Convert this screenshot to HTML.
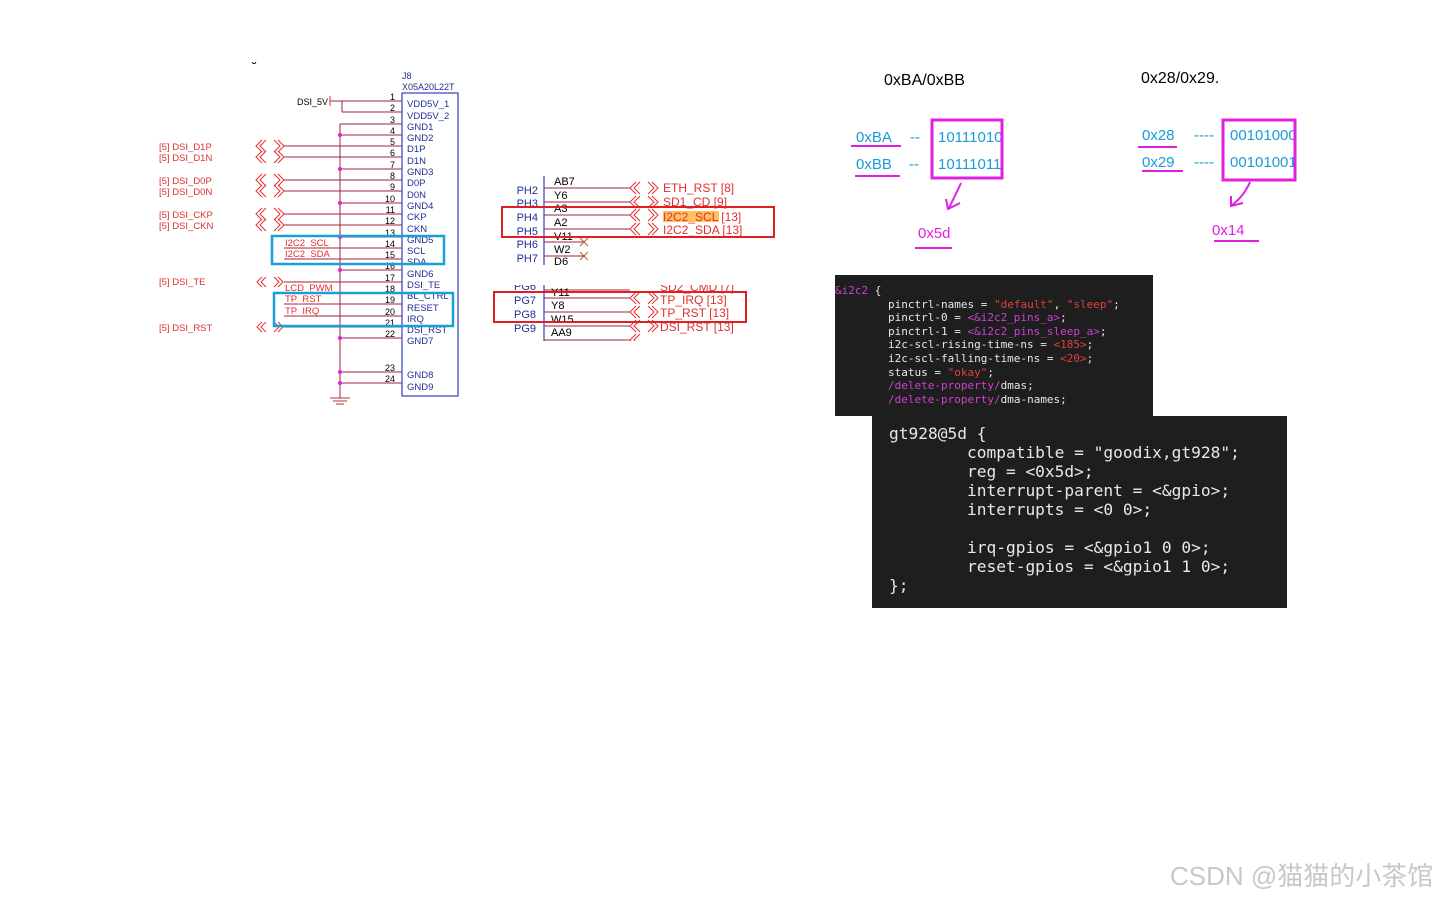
<!DOCTYPE html>
<html><head><meta charset="utf-8"><style>
body{margin:0;background:#fff;width:1440px;height:900px;overflow:hidden;position:relative;font-family:"Liberation Sans",sans-serif}
.code{position:absolute;background:#1e1e1e;font-family:"DejaVu Sans Mono","Liberation Mono",monospace;white-space:pre;color:#e8e8e8}
.m{color:#d040d0}.r{color:#e04040}
</style></head><body>
<svg width="1440" height="900" style="position:absolute;left:0;top:0" font-family="Liberation Sans, sans-serif">
<g font-size="9.5" fill="#e03030">
<text x="252" y="72" fill="#000" font-size="14">˘</text>
</g>
<rect x="402" y="93" width="56" height="303" fill="none" stroke="#3040c0" stroke-width="1.2"/>
<text x="402" y="79" font-size="9" fill="#203090">J8</text>
<text x="402" y="90" font-size="9" fill="#203090">X05A20L22T</text>
<line x1="340" y1="124" x2="340" y2="398" stroke="#a02040" stroke-width="1"/>
<line x1="330" y1="398" x2="350" y2="398" stroke="#c03030"/><line x1="333" y1="401" x2="347" y2="401" stroke="#c03030"/><line x1="336" y1="404" x2="344" y2="404" stroke="#c03030"/>
<g stroke="#a02040" stroke-width="1">
<line x1="330" y1="101" x2="402" y2="101"/><line x1="330" y1="96" x2="330" y2="106" stroke="#e03030"/>
<line x1="342" y1="101" x2="342" y2="112"/><line x1="342" y1="112" x2="402" y2="112"/>
<line x1="340" y1="124" x2="402" y2="124"/><line x1="340" y1="135" x2="402" y2="135"/>
<line x1="284" y1="146" x2="402" y2="146"/><line x1="284" y1="157" x2="402" y2="157"/>
<line x1="340" y1="169" x2="402" y2="169"/>
<line x1="284" y1="180" x2="402" y2="180"/><line x1="284" y1="191" x2="402" y2="191"/>
<line x1="340" y1="203" x2="402" y2="203"/>
<line x1="284" y1="214" x2="402" y2="214"/><line x1="284" y1="225" x2="402" y2="225"/>
<line x1="340" y1="237" x2="402" y2="237"/>
<line x1="284" y1="248" x2="402" y2="248"/><line x1="284" y1="259" x2="402" y2="259"/>
<line x1="340" y1="270" x2="402" y2="270"/>
<line x1="284" y1="282" x2="402" y2="282"/><line x1="284" y1="293" x2="402" y2="293"/>
<line x1="284" y1="304" x2="402" y2="304"/><line x1="284" y1="316" x2="402" y2="316"/>
<line x1="284" y1="327" x2="402" y2="327"/>
<line x1="340" y1="338" x2="402" y2="338"/><line x1="340" y1="372" x2="402" y2="372"/><line x1="340" y1="383" x2="402" y2="383"/>
</g>
<g fill="#e020e0">
<circle cx="340" cy="135" r="2"/><circle cx="340" cy="169" r="2"/><circle cx="340" cy="203" r="2"/><circle cx="340" cy="237" r="2"/><circle cx="340" cy="270" r="2"/><circle cx="340" cy="338" r="2"/><circle cx="340" cy="372" r="2"/><circle cx="340" cy="383" r="2"/>
</g>
<g font-size="9" fill="#000" text-anchor="end">
<text x="395" y="100">1</text><text x="395" y="111">2</text><text x="395" y="123">3</text><text x="395" y="134">4</text><text x="395" y="145">5</text><text x="395" y="156">6</text><text x="395" y="168">7</text><text x="395" y="179">8</text><text x="395" y="190">9</text><text x="395" y="202">10</text><text x="395" y="213">11</text><text x="395" y="224">12</text><text x="395" y="236">13</text><text x="395" y="247">14</text><text x="395" y="258">15</text><text x="395" y="269">16</text><text x="395" y="281">17</text><text x="395" y="292">18</text><text x="395" y="303">19</text><text x="395" y="315">20</text><text x="395" y="326">21</text><text x="395" y="337">22</text><text x="395" y="371">23</text><text x="395" y="382">24</text>
<text x="328" y="105">DSI_5V</text>
</g>
<g font-size="9.5" fill="#203090">
<text x="407" y="107">VDD5V_1</text><text x="407" y="119">VDD5V_2</text><text x="407" y="130">GND1</text><text x="407" y="141">GND2</text><text x="407" y="152">D1P</text><text x="407" y="164">D1N</text><text x="407" y="175">GND3</text><text x="407" y="186">D0P</text><text x="407" y="198">D0N</text><text x="407" y="209">GND4</text><text x="407" y="220">CKP</text><text x="407" y="232">CKN</text><text x="407" y="243">GND5</text><text x="407" y="254">SCL</text><text x="407" y="265">SDA</text><text x="407" y="277">GND6</text><text x="407" y="288">DSI_TE</text><text x="407" y="299">BL_CTRL</text><text x="407" y="311">RESET</text><text x="407" y="322">IRQ</text><text x="407" y="333">DSI_RST</text><text x="407" y="344">GND7</text><text x="407" y="378">GND8</text><text x="407" y="390">GND9</text>
</g>
<g font-size="9.5" fill="#e03030">
<text x="159" y="150">[5]  DSI_D1P</text><text x="159" y="161">[5]  DSI_D1N</text>
<text x="159" y="184">[5]  DSI_D0P</text><text x="159" y="195">[5]  DSI_D0N</text>
<text x="159" y="218">[5]  DSI_CKP</text><text x="159" y="229">[5]  DSI_CKN</text>
<text x="159" y="285">[5]  DSI_TE</text><text x="159" y="331">[5]  DSI_RST</text>
<text x="285" y="246">I2C2_SCL</text><text x="285" y="257">I2C2_SDA</text>
<text x="285" y="291">LCD_PWM</text><text x="285" y="302">TP_RST</text><text x="285" y="314">TP_IRQ</text>
</g>
<g fill="none" stroke="#e03030" stroke-width="1">
<path d="M262,140l-6,6l6,6M266,140l-6,6l6,6M274,140l6,6l-6,6M278,140l6,6l-6,6"/>
<path d="M262,151l-6,6l6,6M266,151l-6,6l6,6M274,151l6,6l-6,6M278,151l6,6l-6,6"/>
<path d="M262,174l-6,6l6,6M266,174l-6,6l6,6M274,174l6,6l-6,6M278,174l6,6l-6,6"/>
<path d="M262,185l-6,6l6,6M266,185l-6,6l6,6M274,185l6,6l-6,6M278,185l6,6l-6,6"/>
<path d="M262,208l-6,6l6,6M266,208l-6,6l6,6M274,208l6,6l-6,6M278,208l6,6l-6,6"/>
<path d="M262,219l-6,6l6,6M266,219l-6,6l6,6M274,219l6,6l-6,6M278,219l6,6l-6,6"/>
<path d="M262,277l-5,5l5,5M266,277l-5,5l5,5M274,277l5,5l-5,5M278,277l5,5l-5,5"/>
<path d="M262,322l-5,5l5,5M266,322l-5,5l5,5M274,322l5,5l-5,5M278,322l5,5l-5,5"/>
</g>
<g fill="none" stroke="#1aa0d8" stroke-width="2.5">
<rect x="272" y="236" width="172" height="28"/>
<rect x="274" y="293" width="179" height="33"/>
</g>
<line x1="544" y1="176" x2="544" y2="265" stroke="#3040c0" stroke-width="1.2"/>
<line x1="544" y1="285" x2="544" y2="342" stroke="#3040c0" stroke-width="1.2"/>
<g stroke="#a02040" stroke-width="1">
<line x1="544" y1="188" x2="630" y2="188"/><line x1="544" y1="202" x2="630" y2="202"/><line x1="544" y1="215" x2="630" y2="215"/><line x1="544" y1="229" x2="630" y2="229"/>
<line x1="544" y1="242" x2="585" y2="242"/><line x1="544" y1="256" x2="585" y2="256"/>
<line x1="544" y1="290" x2="630" y2="290"/><line x1="544" y1="298" x2="630" y2="298"/><line x1="544" y1="312" x2="630" y2="312"/><line x1="544" y1="326" x2="630" y2="326"/><line x1="544" y1="340" x2="630" y2="340"/>
</g>
<g stroke="#b06030"><path d="M580,238l8,8M588,238l-8,8M580,252l8,8M588,252l-8,8"/></g>
<g fill="none" stroke="#e03030">
<path d="M636,182l-6,6l6,6M640,182l-6,6l6,6M648,182l6,6l-6,6M652,182l6,6l-6,6"/>
<path d="M636,196l-6,6l6,6M640,196l-6,6l6,6M648,196l6,6l-6,6M652,196l6,6l-6,6"/>
<path d="M636,209l-6,6l6,6M640,209l-6,6l6,6M648,209l6,6l-6,6M652,209l6,6l-6,6"/>
<path d="M636,223l-6,6l6,6M640,223l-6,6l6,6M648,223l6,6l-6,6M652,223l6,6l-6,6"/>
<path d="M636,292l-6,6l6,6M640,292l-6,6l6,6M648,292l6,6l-6,6M652,292l6,6l-6,6"/>
<path d="M636,306l-6,6l6,6M640,306l-6,6l6,6M648,306l6,6l-6,6M652,306l6,6l-6,6"/>
<path d="M636,320l-6,6l6,6M640,320l-6,6l6,6M648,320l6,6l-6,6M652,320l6,6l-6,6"/>
<path d="M636,334l-6,6l6,6M640,334l-6,6l6,6"/>
</g>
<g font-size="11" fill="#203090" text-anchor="end">
<text x="538" y="194">PH2</text><text x="538" y="207">PH3</text><text x="538" y="221">PH4</text><text x="538" y="235">PH5</text><text x="538" y="248">PH6</text><text x="538" y="262">PH7</text>
<text x="536" y="290">PG6</text><text x="536" y="304">PG7</text><text x="536" y="318">PG8</text><text x="536" y="332">PG9</text>
</g>
<g font-size="11" fill="#000">
<text x="554" y="185">AB7</text><text x="554" y="199">Y6</text><text x="554" y="212">A3</text><text x="554" y="226">A2</text><text x="554" y="240">V11</text><text x="554" y="253">W2</text><text x="554" y="265">D6</text>
<text x="551" y="296">Y11</text><text x="551" y="309">Y8</text><text x="551" y="323">W15</text><text x="551" y="336">AA9</text>
</g>
<rect x="663" y="211" width="56" height="11" fill="#ffc060"/>
<g font-size="12" fill="#e03030">
<text x="663" y="192">ETH_RST  [8]</text><text x="663" y="206">SD1_CD  [9]</text><text x="663" y="221">I2C2_SCL  [13]</text><text x="663" y="234">I2C2_SDA  [13]</text>
<text x="660" y="291">SD2_CMD  [7]</text><text x="660" y="304">TP_IRQ  [13]</text><text x="660" y="317">TP_RST  [13]</text><text x="660" y="331">DSI_RST  [13]</text>
</g>
<rect x="490" y="276" width="290" height="9" fill="#fff"/>
<rect x="490" y="341" width="290" height="6" fill="#fff"/>
<g fill="none" stroke="#e02020" stroke-width="2">
<rect x="502" y="207" width="272" height="30"/>
<rect x="494" y="292" width="252" height="30"/>
</g>
<text x="884" y="85" font-size="16" fill="#000">0xBA/0xBB</text>
<text x="1141" y="83" font-size="16" fill="#000">0x28/0x29.</text>
<g font-size="15" fill="#1a9ad8">
<text x="856" y="142">0xBA</text><text x="856" y="169">0xBB</text><text x="910" y="142">--</text><text x="909" y="169">--</text>
<text x="938" y="142">10111010</text><text x="938" y="169">10111011</text>
<text x="1142" y="140">0x28</text><text x="1142" y="167">0x29</text><text x="1194" y="140">----</text><text x="1194" y="167">----</text>
<text x="1230" y="140">00101000</text><text x="1230" y="167">00101001</text>
</g>
<g fill="none" stroke="#e020e0" stroke-width="2">
<line x1="851" y1="146" x2="901" y2="146"/><line x1="855" y1="176" x2="900" y2="176"/>
<rect x="932" y="120" width="70" height="58" stroke-width="3"/>
<rect x="1223" y="120" width="72" height="60" stroke-width="3"/>
<line x1="1138" y1="147" x2="1177" y2="147"/><line x1="1142" y1="171" x2="1183" y2="171"/>
<path d="M961,183 Q955,196 949,208 M946,199 L948,209 L960,203"/>
<path d="M1250,182 Q1244,196 1232,205 M1231,196 L1231,206 L1243,203"/>
<line x1="915" y1="248" x2="952" y2="248"/><line x1="1214" y1="241" x2="1259" y2="241"/>
</g>
<text x="918" y="238" font-size="15" fill="#e020e0">0x5d</text>
<text x="1212" y="235" font-size="15" fill="#e020e0">0x14</text>
<text x="1170" y="885" font-size="26" fill="#c8c8c8" font-family="Liberation Sans, Noto Sans CJK SC, sans-serif">CSDN @猫猫的小茶馆</text>
</svg>
<div class="code" style="left:835px;top:275px;width:318px;height:141px;font-size:11px;line-height:13.6px;padding-top:9px;box-sizing:border-box"><span class="m">&amp;i2c2</span> {
        pinctrl-names = <span class="r">"default"</span>, <span class="r">"sleep"</span>;
        pinctrl-0 = <span class="m">&lt;&amp;i2c2_pins_a&gt;</span>;
        pinctrl-1 = <span class="m">&lt;&amp;i2c2_pins_sleep_a&gt;</span>;
        i2c-scl-rising-time-ns = <span class="r">&lt;185&gt;</span>;
        i2c-scl-falling-time-ns = <span class="r">&lt;20&gt;</span>;
        status = <span class="r">"okay"</span>;
        <span class="m">/delete-property/</span>dmas;
        <span class="m">/delete-property/</span>dma-names;</div>
<div class="code" style="left:872px;top:416px;width:415px;height:192px;font-size:16.2px;line-height:19px;padding:8px 0 0 17px;box-sizing:border-box">gt928@5d {
        compatible = "goodix,gt928";
        reg = &lt;0x5d&gt;;
        interrupt-parent = &lt;&amp;gpio&gt;;
        interrupts = &lt;0 0&gt;;

        irq-gpios = &lt;&amp;gpio1 0 0&gt;;
        reset-gpios = &lt;&amp;gpio1 1 0&gt;;
};</div>
</body></html>
